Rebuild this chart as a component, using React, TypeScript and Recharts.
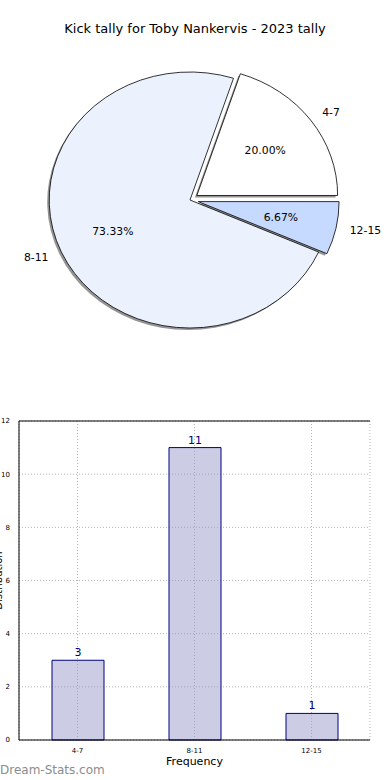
import {
  PieChart,
  Pie,
  BarChart,
  Bar,
  XAxis,
  YAxis,
  CartesianGrid,
  LabelList,
  ReferenceLine,
} from "recharts";

const categories = ["4-7", "8-11", "12-15"];
const counts = [3, 11, 1];
const yTicks = [0, 2, 4, 6, 8, 10, 12];

const pieData = categories.map((name, i) => ({ name, value: counts[i] }));
const barData = categories.map((name, i) => ({ name, count: counts[i] }));

const FONT = "DejaVu Sans, sans-serif";
const SLICE_COLORS = ["#ffffff", "#ebf2fe", "#c6d9fe"];
const EXPLODE = [0.06, 0, 0.06];
const RADIAN = Math.PI / 180;
// the source pie sits on unequal axes, so it comes out as an ellipse
const KX = 1.1;

const pt = (cx: number, cy: number, r: number, angle: number, k: number) => [
  cx + r * KX * k * Math.cos(angle * RADIAN),
  cy - r * k * Math.sin(angle * RADIAN),
];

const shift = (i: number, r: number, mid: number) => {
  const d = EXPLODE[i] * r;
  return [d * KX * Math.cos(mid * RADIAN), -d * Math.sin(mid * RADIAN)];
};

const wedgePath = (cx: number, cy: number, r: number, start: number, end: number) => {
  const [x1, y1] = pt(cx, cy, r, start, 1);
  const [x2, y2] = pt(cx, cy, r, end, 1);
  const large = end - start > 180 ? 1 : 0;
  return `M${cx},${cy} L${x1},${y1} A${r * KX},${r} 0 ${large} 0 ${x2},${y2} Z`;
};

const makeWedge = (shadow: boolean) => (props: any) => {
  const { cx, cy, outerRadius, startAngle, endAngle, name } = props;
  const i = categories.indexOf(name ?? props.payload?.name);
  const mid = (startAngle + endAngle) / 2;
  const [dx, dy] = shift(i, outerRadius, mid);
  const ox = shadow ? -2 : 0;
  const oy = shadow ? 2 : 0;
  const d = wedgePath(cx + dx + ox, cy + dy + oy, outerRadius, startAngle, endAngle);
  if (shadow) return <path d={d} fill="#7a7a7a" fillOpacity={0.8} stroke="none" />;
  return <path d={d} fill={SLICE_COLORS[i]} stroke="#000" strokeWidth={0.8} />;
};

const renderPieLabel = (props: any) => {
  const { cx, cy, midAngle, outerRadius, percent, name } = props;
  const i = categories.indexOf(name);
  const [dx, dy] = shift(i, outerRadius, midAngle);
  const ccx = cx + dx;
  const ccy = cy + dy;
  const [px, py] = pt(ccx, ccy, outerRadius, midAngle, 0.6);
  const [lx, ly] = pt(ccx, ccy, outerRadius, midAngle, 1.1);
  return (
    <g>
      <text x={px} y={py} textAnchor="middle" dominantBaseline="central" fontSize={10.8} fontFamily={FONT} fill="#000">
        {`${(percent * 100).toFixed(2)}%`}
      </text>
      <text x={lx} y={ly} textAnchor={lx > ccx ? "start" : "end"} dominantBaseline="central" fontSize={10.8} fontFamily={FONT} fill="#000">
        {name}
      </text>
    </g>
  );
};

export default function App() {
  return (
    <div style={{ position: "absolute", left: 0, top: 0, width: 390, height: 780, background: "#fff", overflow: "hidden", fontFamily: FONT }}>
      <div style={{ position: "absolute", top: 21, left: 0, width: 390, textAlign: "center", fontSize: 13, color: "#000" }}>
        Kick tally for Toby Nankervis - 2023 tally
      </div>
      <div style={{ position: "absolute", top: 0, left: 0 }}>
        <PieChart width={390} height={380} margin={{ top: 0, right: 0, bottom: 0, left: 0 }}>
          <Pie
            data={pieData}
            dataKey="value"
            cx={190}
            cy={200}
            outerRadius={128}
            startAngle={0}
            endAngle={360}
            shape={makeWedge(true)}
            isAnimationActive={false}
          />
          <Pie
            data={pieData}
            dataKey="value"
            cx={190}
            cy={200}
            outerRadius={128}
            startAngle={0}
            endAngle={360}
            shape={makeWedge(false)}
            label={renderPieLabel}
            labelLine={false}
            isAnimationActive={false}
          />
        </PieChart>
      </div>
      <div style={{ position: "absolute", top: 390, left: 0 }}>
        <BarChart width={390} height={390} data={barData} margin={{ top: 31, right: 20, bottom: 10, left: 0 }}>
          <CartesianGrid strokeDasharray="1 2" stroke="#b4b4b4" />
          <XAxis
            dataKey="name"
            height={30}
            tickLine={false}
            tickMargin={2}
            tick={{ fontSize: 7, fill: "#000", fontFamily: FONT }}
            axisLine={{ stroke: "#000" }}
            label={{ value: "Frequency", position: "insideBottom", offset: 5, fontSize: 11, fill: "#000", fontFamily: FONT }}
          />
          <YAxis
            width={19}
            domain={[0, 12]}
            ticks={yTicks}
            tickLine={false}
            tickMargin={3}
            tick={{ fontSize: 7, fill: "#000", fontFamily: FONT }}
            axisLine={{ stroke: "#000" }}
            label={{
              content: (p: any) => (
                <text
                  x={-2}
                  y={p.viewBox.y + p.viewBox.height / 2}
                  transform={`rotate(-90, -2, ${p.viewBox.y + p.viewBox.height / 2})`}
                  textAnchor="middle"
                  dominantBaseline="central"
                  fontSize={10}
                  fontFamily={FONT}
                  fill="#000"
                >
                  Distribution
                </text>
              ),
            }}
          />
          <ReferenceLine y={12} stroke="#000" />
          <Bar dataKey="count" fill="#9a9ccc" fillOpacity={0.5} stroke="#000080" strokeWidth={1} barSize={52} isAnimationActive={false}>
            <LabelList dataKey="count" position="top" offset={4} fill="#000080" fontSize={11} fontFamily={FONT} />
          </Bar>
          <YAxis yAxisId="right" orientation="right" width={0} tick={false} tickLine={false} axisLine={{ stroke: "#000" }} />
        </BarChart>
      </div>
      <div style={{ position: "absolute", top: 763, left: 0, fontSize: 12, color: "#8c8c8c" }}>
        Dream-Stats.com
      </div>
    </div>
  );
}
